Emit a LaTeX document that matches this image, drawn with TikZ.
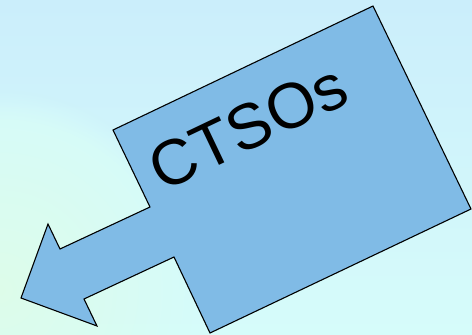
\documentclass[tikz,border=0pt]{standalone}
\usepackage{fontspec}
\setmainfont{Liberation Sans}
\usetikzlibrary{fadings}
\definecolor{bgtop}{HTML}{CBEEFB}
\definecolor{bgbot}{HTML}{D6FCFA}
\definecolor{bggreen}{HTML}{DEFDE8}
\definecolor{boxfill}{HTML}{80BBE6}
\tikzset{
  calloutshape/.style={draw=black, line width=1.1pt, fill=boxfill, line join=miter},
  bigtext/.style={font=\fontsize{64}{64}\selectfont, text=black, inner sep=0pt}
}
\begin{document}
\begin{tikzpicture}[x=1pt, y=-1pt]
  % soft background
  \shade[top color=bgtop, bottom color=bgbot] (0,0) rectangle (472,335);
  \begin{scope}
    \clip (0,0) rectangle (472,335);
    \shade[inner color=bggreen, outer color=bgbot, opacity=0.9, path fading=circle with fuzzy edge 15 percent]
      (0,290) circle (200);
  \end{scope}
  \useasboundingbox (0,0) rectangle (472,335);
  % tilted box with arrow pointing down-left
  \coordinate (tl) at (113,130);
  \coordinate (tr) at (373,6);
  \coordinate (br) at (471,209);
  \coordinate (bl) at (210,333);
  \coordinate (n1) at (174,257);
  \coordinate (s1) at (84,299);
  \coordinate (h1) at (97,326);
  \coordinate (tip) at (21,298);
  \coordinate (h2) at (48,224);
  \coordinate (s2) at (60,249);
  \coordinate (n2) at (150,207);
  \path[calloutshape] (tl) -- (tr) -- (br) -- (bl) -- (n1) -- (s1) -- (h1)
        -- (tip) -- (h2) -- (s2) -- (n2) -- cycle;
  \node[bigtext, rotate=25.5] (label) at (248,127) {CTSOs};
\end{tikzpicture}
\end{document}
